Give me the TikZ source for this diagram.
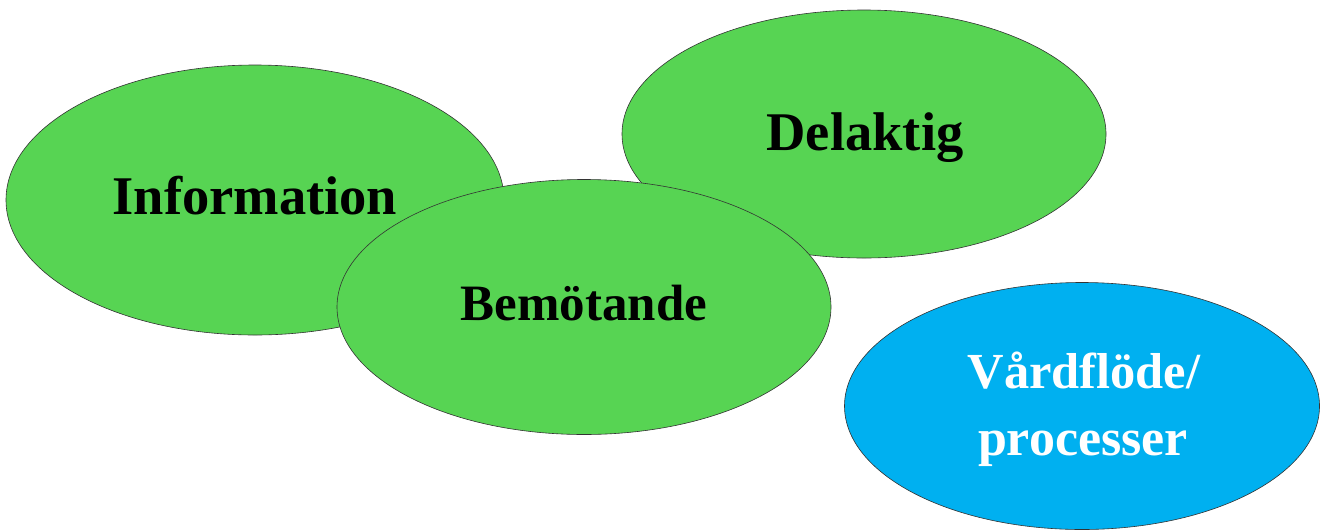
\documentclass[tikz,border=0pt]{standalone}
\usepackage{fontspec}
\setmainfont{Liberation Serif}
\usetikzlibrary{shapes.geometric}
\definecolor{leafgreen}{HTML}{57D453}
\definecolor{skyblue}{HTML}{00B0F0}
\tikzset{
  bubble/.style={ellipse, draw=black!80, line width=0.6pt, inner sep=0pt},
  greenbubble/.style={bubble, fill=leafgreen},
  bluebubble/.style={bubble, fill=skyblue},
  word/.style={anchor=base, inner sep=0pt, font=\fontsize{52}{62}\selectfont\bfseries},
  bigword/.style={word, font=\fontsize{54.5}{62}\selectfont\bfseries},
}
\begin{document}
\begin{tikzpicture}[x=1pt, y=-1pt]
  \useasboundingbox (0,0) rectangle (1328,531);
  % overlapping bubbles, back to front
  \node[greenbubble, minimum width=498pt, minimum height=270pt] (info) at (255,200) {};
  \node[greenbubble, minimum width=484pt, minimum height=248pt] (delak) at (864,134) {};
  \node[greenbubble, minimum width=494pt, minimum height=255pt] (bemot) at (584,307) {};
  \node[bluebubble, minimum width=475pt, minimum height=247pt] (vard) at (1082,406) {};
  % labels
  \node[bigword] (infotext) at (255,214) {Information};
  \node[bigword] (delaktext) at (865,150) {Delaktig};
  \node[word, font=\fontsize{51}{62}\selectfont\bfseries] (bemottext) at (584,320) {Bemötande};
  \node[word, text=white, font=\fontsize{50.5}{62}\selectfont\bfseries] (vardtext) at (1084,388) {Vårdflöde/};
  \node[word, text=white] (proctext) at (1083,455) {processer};
\end{tikzpicture}
\end{document}
